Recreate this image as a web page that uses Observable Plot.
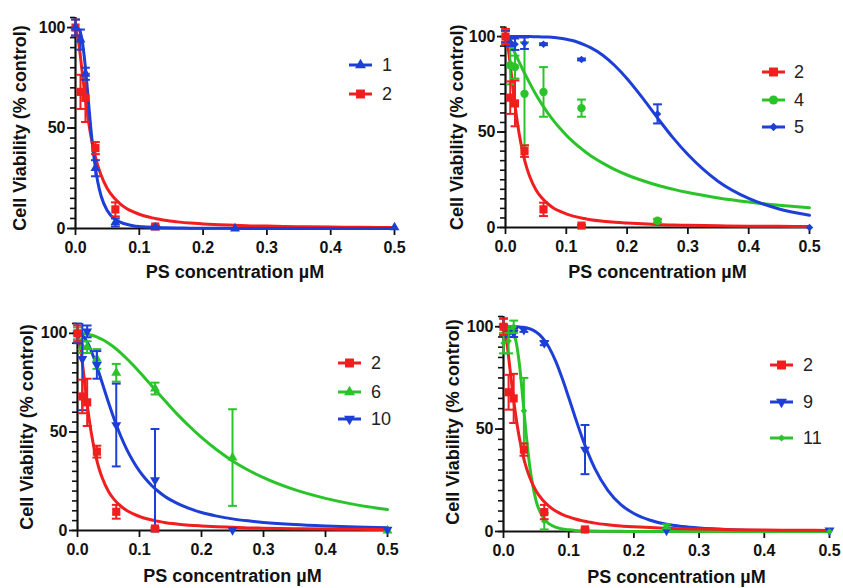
<!DOCTYPE html>
<html><head><meta charset="utf-8">
<script src="https://cdn.jsdelivr.net/npm/d3@7"></script>
<script src="https://cdn.jsdelivr.net/npm/@observablehq/plot@0.6"></script>
<style>
body{margin:0;background:#fff;}
#wrap{position:relative;width:843px;height:588px;overflow:hidden;}
.panel{position:absolute;}
#legend{position:absolute;left:0;top:0;}
</style>
</head><body><div id="wrap"></div>
<script>
// ---------- data ----------
const conc = [0, 0.0078, 0.0156, 0.03125, 0.0625, 0.125, 0.25, 0.5];
const xTicks = [0, 0.1, 0.2, 0.3, 0.4, 0.5];
const yMajorTicks = [0, 50, 100];
const yMinorTicks = [0, 5, 10, 15, 20, 25, 30, 35, 40, 45, 50, 55, 60, 65, 70, 75, 80, 85, 90, 95, 100, 105];
const yMax = 105;
const xLabel = "PS concentration µM";
const yLabel = "Cell Viability (% control)";

const mean1 = [100, 94, 77, 30, 3, 0.5, 0, 0.5];
const err1  = [4, 5, 3, 4, 2, 0.5, 0, 0];
const mean2 = [100, 68, 65, 40, 9.5, 1, null, null];
const err2  = [4, 8.5, 12, 3, 3.5, 0.5, null, null];
const mean4 = [100, 85, 84, 70, 71, 62.5, 3.5, null];
const err4  = [3, 10, 6, 27, 13, 4.5, 1, null];
const mean5 = [100, 97, 96, 96.5, 96, 88, 59.5, 0];
const err5  = [3, 2, 3, 3, 0.5, 0.5, 5, 0];
const mean6 = [100, 93, 93, 87, 80, 72, 37, 0];
const err6  = [3, 3, 3, 5, 4.5, 3, 24.5, 0];
const mean10 = [100, 87, 101, 84, 53.5, 25.5, 0.3, 0.5];
const err10  = [5, 26, 3, 7, 21, 26, 0, 0];
const mean9 = [100, 97, 97, 98.5, 92, 40, 0.5, 0.5];
const err9  = [4, 2, 2, 1, 1, 12, 0, 0];
const mean11 = [92, 93, 100, 59, 5, 0.5, 2.5, 0];
const err11  = [5, 6, 3, 16, 4, 0, 1, 0];

// fitted curves at these concentrations
const curveGrid = [0, 0.005, 0.01, 0.015, 0.02, 0.025, 0.03, 0.035, 0.04, 0.05, 0.06, 0.07, 0.08, 0.09, 0.1, 0.11, 0.12, 0.13, 0.14, 0.16, 0.18, 0.2, 0.225, 0.25, 0.275, 0.3, 0.35, 0.4, 0.45, 0.5];
const fit1 = [100, 99.3, 94.3, 81.8, 64.2, 46.7, 32.9, 23, 16.3, 8.8, 5.0, 3.2, 2.1, 1.4, 1.0, 0.8, 0.6, 0.45, 0.35, 0.23, 0.16, 0.11, 0.08, 0.06, 0.04, 0.03, 0.02, 0.01, 0.01, 0];
const fit2 = [100, 92.6, 79.2, 65.7, 54.0, 44.6, 37.1, 31.2, 26.6, 19.8, 15.4, 12.3, 10.0, 8.4, 7.1, 6.1, 5.3, 4.7, 4.1, 3.3, 2.7, 2.3, 1.9, 1.6, 1.3, 1.2, 0.9, 0.7, 0.6, 0.5];
const fit4 = [100, 97.9, 94.9, 91.7, 88.3, 85.0, 81.7, 78.6, 75.5, 69.7, 64.5, 59.8, 55.6, 51.8, 48.3, 45.2, 42.5, 39.9, 37.6, 33.7, 30.3, 27.5, 24.6, 22.1, 20.1, 18.3, 15.5, 13.4, 11.7, 10.4];
const fit5 = [100, 100, 100, 100, 100, 100, 100, 100, 100, 99.9, 99.8, 99.7, 99.5, 99.1, 98.6, 97.9, 96.9, 95.7, 94.2, 90.2, 84.7, 77.9, 68.0, 57.4, 47.2, 38.2, 24.1, 15.2, 9.7, 6.4];
const fit6 = [100, 100, 99.8, 99.6, 99.3, 98.9, 98.3, 97.6, 96.9, 95.0, 92.7, 90.0, 87.0, 83.8, 80.4, 76.9, 73.3, 69.7, 66.2, 59.3, 53.0, 47.2, 40.8, 35.3, 30.7, 26.8, 20.7, 16.3, 13.0, 10.6];
const fit10 = [100, 99.6, 98.2, 95.9, 92.7, 88.8, 84.4, 79.6, 74.7, 64.9, 55.8, 47.7, 40.8, 35.0, 30.1, 26.1, 22.7, 19.9, 17.5, 13.9, 11.2, 9.1, 7.3, 5.9, 4.9, 4.1, 3.0, 2.3, 1.8, 1.4];
const fit9 = [100, 100, 100, 100, 99.95, 99.9, 99.7, 99.4, 99.0, 97.4, 94.5, 89.8, 83.2, 74.8, 65.4, 55.7, 46.4, 38.0, 30.8, 20.1, 13.1, 8.8, 5.5, 3.5, 2.4, 1.7, 0.9, 0.5, 0.3, 0.2];
const fit11 = [100, 100, 99.6, 97.5, 91.6, 80.0, 63.7, 46.7, 32.5, 15.0, 7.2, 3.7, 2.1, 1.2, 0.8, 0.5, 0.3, 0.2, 0.2, 0.1, 0.1, 0, 0, 0, 0, 0, 0, 0, 0, 0];

// ---------- styles ----------
const RED = "#f01e1e", BLUE = "#1d3fd6", GREEN = "#2ac42a", INK = "#111";
const symTriDown = { draw(ctx, size) { const y = Math.sqrt(size / (3 * Math.sqrt(3))); ctx.moveTo(0, 2 * y); ctx.lineTo(-Math.sqrt(3) * y, -y); ctx.lineTo(Math.sqrt(3) * y, -y); ctx.closePath(); } };
const symCap = { draw(ctx, size) { const w = Math.sqrt(size) / 2; ctx.moveTo(-w, 0); ctx.lineTo(w, 0); } };

const s1  = {name: "1",  mean: mean1,  err: err1,  fit: fit1,  color: BLUE,  symbol: d3.symbolTriangle, r: 3.7};
const s2  = {name: "2",  mean: mean2,  err: err2,  fit: fit2,  color: RED,   symbol: d3.symbolSquare,   r: 4.6};
const s4  = {name: "4",  mean: mean4,  err: err4,  fit: fit4,  color: GREEN, symbol: d3.symbolCircle,   r: 4.2};
const s5  = {name: "5",  mean: mean5,  err: err5,  fit: fit5,  color: BLUE,  symbol: d3.symbolDiamond2, r: 3.4};
const s6  = {name: "6",  mean: mean6,  err: err6,  fit: fit6,  color: GREEN, symbol: d3.symbolTriangle, r: 3.7};
const s10 = {name: "10", mean: mean10, err: err10, fit: fit10, color: BLUE,  symbol: symTriDown,        r: 3.7};
const s9  = {name: "9",  mean: mean9,  err: err9,  fit: fit9,  color: BLUE,  symbol: symTriDown,        r: 3.7};
const s11 = {name: "11", mean: mean11, err: err11, fit: fit11, color: GREEN, symbol: d3.symbolDiamond2, r: 2.9};

const panels = [
  {left: 0,   top: 0,   width: 421, ml: 75, mr: 27, mt: 17,   mb: 66, xdx: 0,  xdy: 44, ydx: -55, ydy: 5,
   series: [s2, s1], legendOrder: [s1, s2], leg: {x: 349, tx: 382, ys: [65, 94]}},
  {left: 421, top: 0,   width: 422, ml: 84, mr: 34, mt: 26.5, mb: 67, xdx: 0,  xdy: 45, ydx: -48, ydy: 0,
   series: [s4, s5, s2], legendOrder: [s2, s4, s5], leg: {x: 762, tx: 794, ys: [72, 100, 127]}},
  {left: 0,   top: 294, width: 421, ml: 77, mr: 34, mt: 29,   mb: 58, xdx: 0,  xdy: 46, ydx: -50, ydy: 0,
   series: [s6, s10, s2], legendOrder: [s2, s6, s10], leg: {x: 338, tx: 371, ys: [363, 392, 419]}},
  {left: 421, top: 294, width: 422, ml: 82, mr: 14, mt: 22,   mb: 57, xdx: 10, xdy: 46, ydx: -50, ydy: -2,
   series: [s9, s11, s2], legendOrder: [s2, s9, s11], leg: {x: 770, tx: 803, ys: [365, 402, 438]}}
];

const wrap = document.getElementById("wrap");

for (const p of panels) {
  const marks = [
    Plot.axisY({ticks: yMinorTicks, tickSize: 5, tickFormat: () => "", stroke: INK, strokeWidth: 1.6, label: null}),
    Plot.axisY({ticks: yMajorTicks, tickSize: 8, tickPadding: 2, fontSize: 16, fontWeight: "bold", fill: INK, stroke: INK, strokeWidth: 1.8, label: null}),
    Plot.axisX({ticks: xTicks, tickSize: 7, tickPadding: 6, tickFormat: d3.format(".1f"), fontSize: 16, fontWeight: "bold", fill: INK, stroke: INK, strokeWidth: 1.8, label: null}),
    Plot.ruleY([0], {stroke: INK, strokeWidth: 2.2}),
    Plot.ruleX([0], {y1: 0, y2: yMax, stroke: INK, strokeWidth: 2.2}),
    Plot.text([xLabel], {text: d => d, frameAnchor: "bottom", textAnchor: "middle", dx: p.xdx, dy: p.xdy, fontSize: 18, fontWeight: "bold", fill: INK, lineAnchor: "middle"}),
    Plot.text([yLabel], {text: d => d, frameAnchor: "left", textAnchor: "middle", rotate: -90, dx: p.ydx, dy: p.ydy, fontSize: 18, fontWeight: "bold", fill: INK, lineAnchor: "middle"})
  ];
  for (const s of p.series) {
    marks.push(Plot.line(curveGrid.map((x, i) => ({x, y: s.fit[i]})), {x: "x", y: "y", stroke: s.color, strokeWidth: 3, curve: "monotone-x"}));
  }
  for (const s of p.series) {
    const rows = conc.map((x, i) => ({x, y: s.mean[i], e: s.err[i]})).filter(d => d.y != null);
    const withErr = rows.filter(d => d.e > 0);
    marks.push(
      Plot.ruleX(withErr, {x: "x", y1: d => d.y - d.e, y2: d => Math.min(d.y + d.e, yMax), stroke: s.color, strokeWidth: 2}),
      Plot.dot(withErr.filter(d => d.y + d.e <= yMax), {x: "x", y: d => d.y + d.e, symbol: symCap, r: 5, stroke: s.color, strokeWidth: 2, fill: "none"}),
      Plot.dot(withErr, {x: "x", y: d => d.y - d.e, symbol: symCap, r: 5, stroke: s.color, strokeWidth: 2, fill: "none"}),
      Plot.dot(rows, {x: "x", y: "y", symbol: s.symbol, r: s.r, fill: s.color, stroke: "none"})
    );
  }
  const svg = Plot.plot({
    width: p.width, height: 294,
    marginLeft: p.ml, marginRight: p.mr, marginTop: p.mt, marginBottom: p.mb,
    x: {domain: [0, 0.5]},
    y: {domain: [0, yMax]},
    style: {fontFamily: "'Liberation Sans', Arial, sans-serif", fontWeight: "bold", background: "transparent", overflow: "visible", color: INK},
    marks
  });
  svg.classList.add("panel");
  svg.style.left = p.left + "px";
  svg.style.top = p.top + "px";
  wrap.appendChild(svg);
}

// ---------- legends ----------
const leg = d3.select(wrap).append("svg").attr("id", "legend").attr("width", 843).attr("height", 588);
for (const p of panels) {
  p.legendOrder.forEach((s, i) => {
    const y = p.leg.ys[i];
    const g = leg.append("g");
    g.append("line").attr("x1", p.leg.x).attr("x2", p.leg.x + 23).attr("y1", y).attr("y2", y)
      .attr("stroke", s.color).attr("stroke-width", 3);
    g.append("path").attr("d", d3.symbol().type(s.symbol).size(Math.PI * s.r * s.r * 1.2)())
      .attr("transform", `translate(${p.leg.x + 11.5},${y})`).attr("fill", s.color);
    g.append("text").attr("x", p.leg.tx).attr("y", y).attr("dy", "0.35em")
      .attr("font-family", "'Liberation Sans', Arial, sans-serif").attr("font-size", 18).attr("fill", "#222")
      .text(s.name);
  });
}
</script></body></html>
